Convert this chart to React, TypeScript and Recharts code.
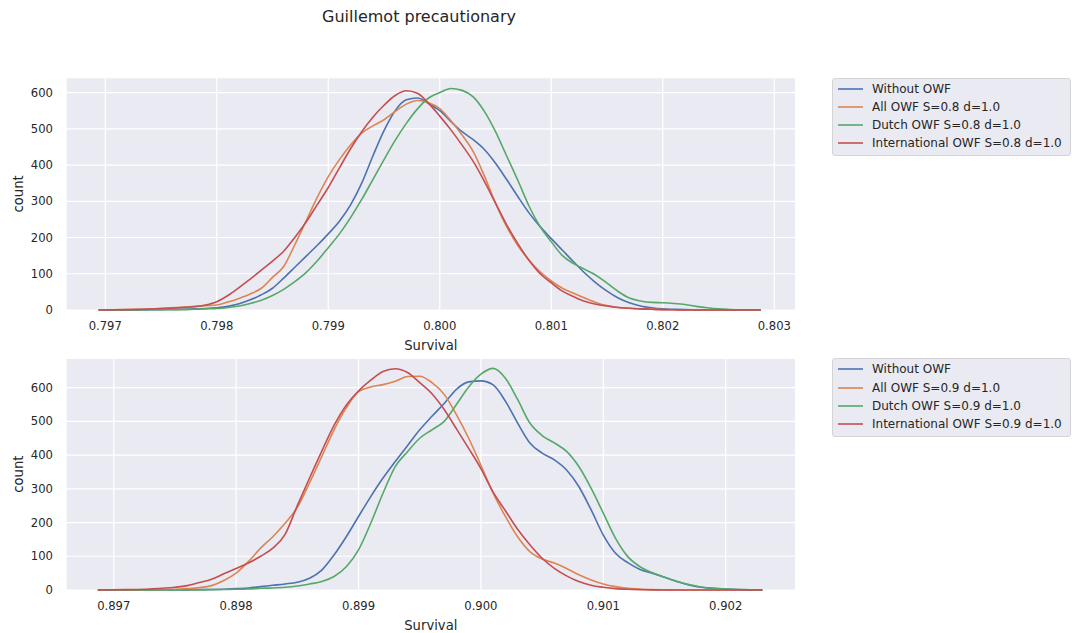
import React from "react";
import { LineChart, Line, XAxis, YAxis, CartesianGrid, Legend } from "recharts";

const FONT = '"DejaVu Sans", Verdana, sans-serif';
const TEXT = "#262626";
const PANEL_BG = "#eaeaf2";

// seaborn "deep" palette
const COLORS = ["#4c72b0", "#dd8452", "#55a868", "#c44e52"];
const KEYS = ["without", "all", "dutch", "intl"];

const countTicks = [0, 100, 200, 300, 400, 500, 600];

// ---- upper panel, S=0.8 ----
const labelsTop = [
  "Without OWF",
  "All OWF S=0.8 d=1.0",
  "Dutch OWF S=0.8 d=1.0",
  "International OWF S=0.8 d=1.0",
];
const survivalTicksTop = [0.797, 0.798, 0.799, 0.8, 0.801, 0.802, 0.803];
const survivalTop = [
  0.79694, 0.7972, 0.7975, 0.7977, 0.7978, 0.7979, 0.798, 0.7981, 0.7982, 0.7983, 0.7984,
  0.7985, 0.7986, 0.7987, 0.7988, 0.7989, 0.799, 0.7991, 0.7992, 0.7993, 0.7994, 0.7995,
  0.7996, 0.7997, 0.7998, 0.7999, 0.8, 0.8001, 0.8002, 0.8003, 0.8004, 0.8005, 0.8006,
  0.8007, 0.8008, 0.8009, 0.801, 0.8011, 0.8012, 0.8013, 0.8014, 0.8015, 0.8016, 0.8017,
  0.8018, 0.8019, 0.802, 0.8021, 0.8022, 0.8023, 0.8024, 0.8025, 0.8026, 0.8027, 0.80288,
];
const withoutTop = [
  0, 0, 1, 2, 3, 4, 6, 10, 17, 28, 42, 60, 88, 118, 148, 178, 210, 245, 290, 350, 425, 495,
  550, 580, 585, 570, 550, 520, 492, 470, 443, 405, 360, 313, 268, 230, 197, 165, 133, 102,
  75, 52, 33, 20, 11, 6, 3, 2, 1, 0.5, 0, 0, 0, 0, 0,
];
const allTop = [
  0, 1, 4, 8, 10, 12, 14, 22, 32, 44, 60, 90, 120, 180, 245, 310, 368, 415, 455, 488, 508,
  525, 548, 568, 578, 572, 556, 522, 483, 437, 370, 295, 230, 178, 138, 105, 80, 60, 46, 33,
  21, 12, 7, 5, 3, 2, 1, 0.5, 0, 0, 0, 0, 0, 0, 0,
];
const dutchTop = [
  0, 0, 1, 1, 2, 3, 4, 7, 11, 18, 27, 40, 57, 78, 103, 135, 172, 210, 255, 305, 360, 415,
  468, 515, 555, 585, 600, 611, 606, 588, 548, 492, 425, 358, 287, 230, 188, 150, 128, 112,
  96, 74, 51, 33, 25, 21, 20, 18, 15, 10, 6, 3, 1.5, 0.5, 0,
];
const intlTop = [
  0, 1, 4, 7, 9, 14, 23, 40, 62, 85, 110, 135, 162, 200, 242, 290, 338, 392, 445, 492, 532,
  565, 592, 605, 598, 570, 535, 497, 455, 410, 355, 295, 235, 183, 137, 100, 75, 52, 37, 24,
  16, 11, 7, 5, 3, 2, 1, 0.5, 0, 0, 0, 0, 0, 0, 0,
];

// ---- lower panel, S=0.9 ----
const labelsBottom = [
  "Without OWF",
  "All OWF S=0.9 d=1.0",
  "Dutch OWF S=0.9 d=1.0",
  "International OWF S=0.9 d=1.0",
];
const survivalTicksBottom = [0.897, 0.898, 0.899, 0.9, 0.901, 0.902];
const survivalBottom = [
  0.89687, 0.8971, 0.8973, 0.8975, 0.8976, 0.8977, 0.8978, 0.8979, 0.898, 0.8981, 0.8982,
  0.8983, 0.8984, 0.8985, 0.8986, 0.8987, 0.8988, 0.8989, 0.899, 0.8991, 0.8992, 0.8993,
  0.8994, 0.8995, 0.8996, 0.8997, 0.8998, 0.8999, 0.9, 0.9001, 0.9002, 0.9003, 0.9004,
  0.9005, 0.9006, 0.9007, 0.9008, 0.9009, 0.901, 0.9011, 0.9012, 0.9013, 0.9014, 0.9015,
  0.9016, 0.9017, 0.9018, 0.9019, 0.902, 0.9021, 0.9022, 0.9023,
];
const withoutBottom = [
  0, 0, 0, 0, 0.5, 1, 1.5, 2, 4, 6, 10, 14, 18, 23, 35, 59, 104, 158, 218, 277, 332, 381,
  428, 475, 515, 553, 595, 617, 620, 608, 560, 495, 436, 406, 386, 356, 307, 238, 163, 109,
  81, 61, 50, 38, 25, 15, 8, 5, 3, 1.5, 0.5, 0,
];
const allBottom = [
  0, 0, 1, 2, 4, 7, 13, 28, 50, 84, 124, 158, 198, 245, 318, 396, 475, 540, 588, 602, 609,
  619, 633, 634, 615, 580, 520, 450, 370, 287, 218, 158, 114, 92, 80, 64, 45, 30, 18, 10, 5,
  3, 1, 0.5, 0, 0, 0, 0, 0, 0, 0, 0,
];
const dutchBottom = [
  0, 0, 0, 0, 0, 0.5, 1, 1.5, 2, 3, 5, 6, 8, 12, 18, 25, 40, 69, 119, 198, 287, 366, 410,
  450, 475, 500, 550, 602, 640, 657, 628, 565, 495, 458, 436, 411, 366, 302, 228, 153, 99,
  69, 51, 38, 26, 16, 9, 5, 3, 1.5, 0.5, 0,
];
const intlBottom = [
  0, 1, 3, 8, 13, 22, 32, 48, 64, 80, 100, 124, 165, 250, 332, 412, 488, 548, 590, 622, 648,
  656, 645, 615, 582, 535, 478, 420, 360, 290, 235, 180, 134, 94, 64, 42, 25, 14, 8, 4, 2, 1,
  0.5, 0, 0, 0, 0, 0, 0, 0, 0, 0,
];

function LegendBox(props: any) {
  // keep the plotting order, not the alphabetical one
  const items = [...(props.payload || [])].sort(
    (a: any, b: any) => KEYS.indexOf(a.dataKey) - KEYS.indexOf(b.dataKey)
  );
  return (
    <div
      style={{
        background: PANEL_BG,
        border: "1px solid #d4d4d8",
        borderRadius: 3,
        padding: "1px 0 3px 0",
        boxSizing: "border-box",
        width: 239,
        fontFamily: FONT,
        fontSize: 12,
        color: TEXT,
      }}
    >
      {items.map((it: any) => (
        <div key={it.value} style={{ display: "flex", alignItems: "center", height: 18.2 }}>
          <svg width={34} height={10} style={{ marginLeft: 5, flex: "none" }}>
            <line x1={0} y1={5} x2={25} y2={5} stroke={it.color} strokeWidth={1.6} />
          </svg>
          <span style={{ whiteSpace: "nowrap" }}>{it.value}</span>
        </div>
      ))}
    </div>
  );
}

type PanelProps = {
  survival: number[];
  values: number[][];
  labels: string[];
  xDomain: [number, number];
  xTicks: number[];
  yMax: number;
  top: number;
  bottom: number;
  height: number;
};

function Panel({ survival, values, labels, xDomain, xTicks, yMax, top, bottom, height }: PanelProps) {
  const data = survival.map((s, i) => {
    const row: Record<string, number> = { survival: s };
    KEYS.forEach((k, j) => {
      row[k] = values[j][i];
    });
    return row;
  });

  return (
    <LineChart
      width={1072}
      height={height}
      data={data}
      margin={{ top, right: 276.3, bottom, left: 16 }}
      style={{ fontFamily: FONT }}
    >
      <CartesianGrid fill={PANEL_BG} stroke="#ffffff" strokeWidth={1.2} />
      <XAxis
        dataKey="survival"
        type="number"
        domain={xDomain}
        ticks={xTicks}
        tickFormatter={(v: number) => v.toFixed(3)}
        axisLine={false}
        tickLine={false}
        tickMargin={6}
        height={40}
        tick={{ fill: TEXT, fontSize: 11.6 }}
        label={{ value: "Survival", position: "insideBottom", offset: 0, fill: TEXT, fontSize: 13.2 }}
      />
      <YAxis
        type="number"
        domain={[0, yMax]}
        ticks={countTicks}
        axisLine={false}
        tickLine={false}
        tickMargin={7}
        width={50}
        tick={{ fill: TEXT, fontSize: 11.6 }}
        label={{
          content: (p: any) => {
            const vb = p.viewBox || { y: 0, height: 0 };
            const cx = 19;
            const cy = vb.y + vb.height / 2;
            return (
              <text
                x={cx}
                y={cy}
                transform={`rotate(-90, ${cx}, ${cy})`}
                textAnchor="middle"
                dominantBaseline="central"
                fill={TEXT}
                fontSize={13.2}
              >
                count
              </text>
            );
          },
        }}
      />
      <Legend
        layout="vertical"
        align="center"
        verticalAlign="middle"
        content={<LegendBox />}
        wrapperStyle={{ left: 832, top, width: 239 }}
      />
      {KEYS.map((k, j) => (
        <Line
          key={k}
          dataKey={k}
          name={labels[j]}
          type="monotone"
          stroke={COLORS[j]}
          strokeWidth={1.6}
          dot={false}
          activeDot={false}
          isAnimationActive={false}
        />
      ))}
    </LineChart>
  );
}

export default function App() {
  return (
    <div
      style={{
        position: "absolute",
        left: 0,
        top: 0,
        width: 1072,
        height: 633,
        background: "#ffffff",
        fontFamily: FONT,
      }}
    >
      <div
        style={{
          position: "absolute",
          left: 0,
          top: 7,
          width: 838,
          textAlign: "center",
          fontSize: 16,
          lineHeight: "20px",
          color: TEXT,
        }}
      >
        Guillemot precautionary
      </div>
      <div style={{ position: "absolute", left: 0, top: 0 }}>
        <Panel
          survival={survivalTop}
          values={[withoutTop, allTop, dutchTop, intlTop]}
          labels={labelsTop}
          xDomain={[0.796648, 0.803192]}
          xTicks={survivalTicksTop}
          yMax={641}
          top={77.7}
          bottom={6}
          height={356}
        />
      </div>
      <div style={{ position: "absolute", left: 0, top: 350 }}>
        <Panel
          survival={survivalBottom}
          values={[withoutBottom, allBottom, dutchBottom, intlBottom]}
          labels={labelsBottom}
          xDomain={[0.89661, 0.902572]}
          xTicks={survivalTicksBottom}
          yMax={687}
          top={8.3}
          bottom={3}
          height={283}
        />
      </div>
    </div>
  );
}
